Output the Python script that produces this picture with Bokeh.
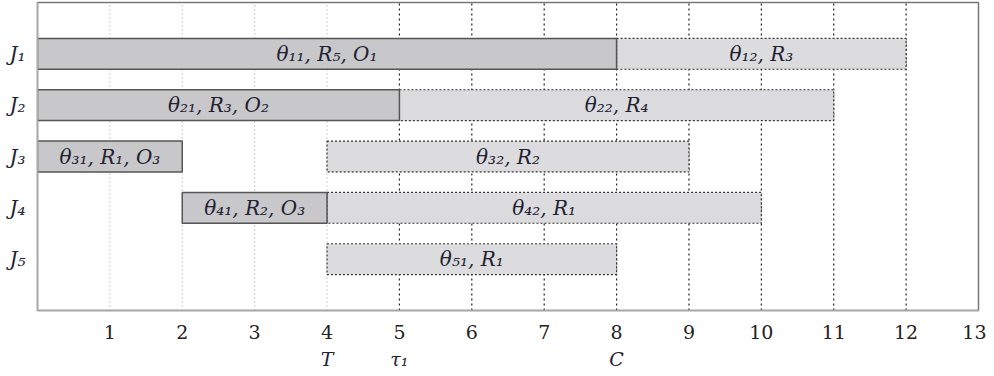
from bokeh.plotting import figure
from bokeh.models import ColumnDataSource, FixedTicker, LinearAxis, Range1d
from bokeh.core.properties import value
from bokeh.embed import file_html
from bokeh.resources import INLINE

# ---- data ----
jobs = ["J₁", "J₂", "J₃", "J₄", "J₅"]
op_job = [1, 1, 2, 2, 3, 3, 4, 4, 5]
op_start = [0, 8, 0, 5, 0, 4, 2, 4, 4]
op_end = [8, 12, 5, 11, 2, 9, 4, 10, 8]
op_label = ["θ₁₁, R₅, O₁", "θ₁₂, R₃",
            "θ₂₁, R₃, O₂", "θ₂₂, R₄",
            "θ₃₁, R₁, O₃", "θ₃₂, R₂",
            "θ₄₁, R₂, O₃", "θ₄₂, R₁",
            "θ₅₁, R₁"]
op_done = [True, False, True, False, True, False, True, False, False]
time_ticks = list(range(1, 14))
light_grid = [1, 2, 3, 4]
dark_grid = [5, 6, 7, 8, 9, 10, 11, 12]
event_names = ["T", "τ₁", "C"]
event_times = [4, 5, 8]

FONT = "DejaVu Serif"
FS = "19px"
n_jobs = len(jobs)
row_of = lambda j: n_jobs - j + 1
YMAX = 6.0

p = figure(width=986, height=372, output_backend="svg", toolbar_location=None,
           x_range=Range1d(0, 13), y_range=Range1d(0, YMAX),
           min_border_left=37, min_border_right=8, min_border_top=2, min_border_bottom=10)
p.xgrid.grid_line_color = None
p.ygrid.grid_line_color = None
p.outline_line_color = "#777777"
p.outline_line_width = 1.5
p.background_fill_color = "white"

# vertical guide lines
p.segment(x0=light_grid, y0=[0] * len(light_grid), x1=light_grid, y1=[YMAX] * len(light_grid),
          line_color="#b0b0b0", line_dash="1 3", line_width=1.2)
p.segment(x0=dark_grid, y0=[0] * len(dark_grid), x1=dark_grid, y1=[YMAX] * len(dark_grid),
          line_color="#222222", line_dash="2 3", line_width=1.2)

rows = [row_of(j) for j in op_job]
mid = [(s + e) / 2 for s, e in zip(op_start, op_end)]
idx_done = [i for i, d in enumerate(op_done) if d]
idx_plan = [i for i, d in enumerate(op_done) if not d]

def sub(idx):
    return ColumnDataSource(dict(
        left=[op_start[i] for i in idx], right=[op_end[i] for i in idx],
        y=[rows[i] for i in idx], x=[mid[i] for i in idx],
        label=[op_label[i] for i in idx]))

src_plan = sub(idx_plan)
src_done = sub(idx_done)
H = 0.6
p.hbar(y="y", left="left", right="right", height=H, source=src_plan,
       fill_color="#dcdcde", line_color="#333333", line_dash="2 2", line_width=1.2)
p.hbar(y="y", left="left", right="right", height=H, source=src_done,
       fill_color="#c8c8ca", line_color="#555555", line_width=1.5)

for src in (src_done, src_plan):
    p.text(x="x", y="y", text="label", source=src, text_align="center",
           text_baseline="middle", text_font=value(FONT), text_font_style="italic",
           text_font_size="20px", text_color="#222233")

# x axis (main)
xa = p.xaxis[0]
xa.ticker = FixedTicker(ticks=time_ticks)
xa.major_tick_line_color = None
xa.minor_tick_line_color = None
xa.axis_line_color = "#aaaaaa"
xa.axis_line_width = 1.5
xa.major_label_text_font = FONT
xa.major_label_text_font_size = FS
xa.major_label_text_color = "#222222"
xa.major_label_standoff = 8

# y axis
ya = p.yaxis[0]
ya.ticker = FixedTicker(ticks=[row_of(j) for j in range(1, n_jobs + 1)])
ya.major_label_overrides = {row_of(j): jobs[j - 1] for j in range(1, n_jobs + 1)}
ya.major_tick_line_color = None
ya.minor_tick_line_color = None
ya.axis_line_color = "#aaaaaa"
ya.axis_line_width = 1.5
ya.major_label_text_font = FONT
ya.major_label_text_font_style = "italic"
ya.major_label_text_font_size = "20px"
ya.major_label_text_color = "#222233"
ya.major_label_standoff = 6

# event axis below
ea = LinearAxis(ticker=FixedTicker(ticks=event_times),
                major_label_overrides={t: n for t, n in zip(event_times, event_names)})
ea.axis_line_color = None
ea.major_tick_line_color = None
ea.minor_tick_line_color = None
ea.major_label_text_font = FONT
ea.major_label_text_font_style = "italic"
ea.major_label_text_font_size = FS
ea.major_label_text_color = "#222233"
ea.major_label_standoff = 0
p.add_layout(ea, "below")

open("out.html", "w").write(file_html(p, INLINE))
